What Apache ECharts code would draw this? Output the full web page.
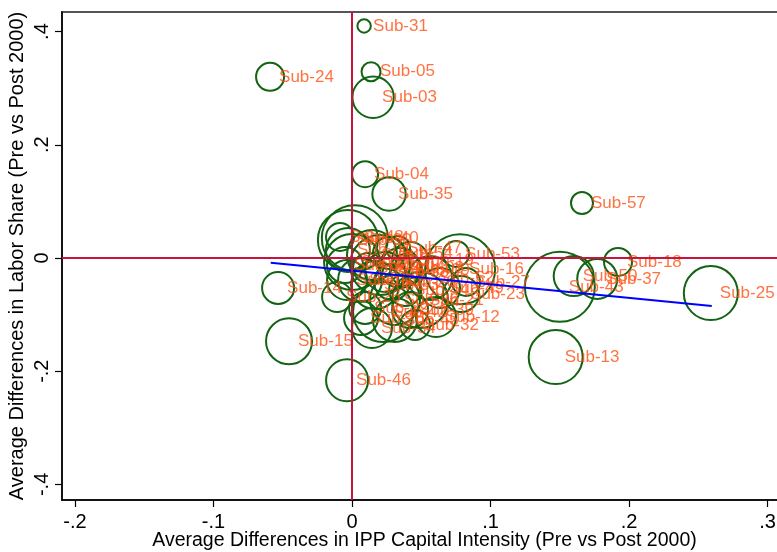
<!DOCTYPE html>
<html>
<head>
<meta charset="utf-8">
<script src="https://cdn.jsdelivr.net/npm/echarts@6/dist/echarts.min.js"></script>
<style>
  html, body { margin: 0; padding: 0; background: #fff; }
  #main { width: 777px; height: 552px; }
</style>
</head>
<body>
<div id="main"></div>
<script>
// sub-industry labels
var subs = ['Sub-31', 'Sub-24', 'Sub-05', 'Sub-03', 'Sub-04', 'Sub-35', 'Sub-57', 'Sub-18',
    'Sub-25', 'Sub-13', 'Sub-46', 'Sub-15', 'Sub-14', 'Sub-50', 'Sub-37', 'Sub-43',
    'Sub-01', 'Sub-30', 'Sub-40', 'Sub-06', 'Sub-11', 'Sub-07', 'Sub-54', 'Sub-08',
    'Sub-19', 'Sub-09', 'Sub-53', 'Sub-16', 'Sub-27', 'Sub-23', 'Sub-12', 'Sub-34',
    'Sub-26', 'Sub-28', 'Sub-21', 'Sub-39', 'Sub-36', 'Sub-42', 'Sub-22', 'Sub-10',
    'Sub-17', 'Sub-33', 'Sub-20', 'Sub-44', 'Sub-52', 'Sub-38', 'Sub-02', 'Sub-41',
    'Sub-47', 'Sub-48', 'Sub-45', 'Sub-32', 'Sub-49'];
// average difference in IPP capital intensity
var ippDiff = [0.0087, -0.0592, 0.0137, 0.0152, 0.0094, 0.0267, 0.166, 0.192,
    0.259, 0.147, -0.0036, -0.0455, -0.0534, 0.160, 0.177, 0.150,
    -0.0030, -0.0030, 0.0020, 0.0000, 0.0144, 0.0202, 0.0267, 0.0347,
    0.0419, 0.0390, 0.0751, 0.0780, 0.0823, 0.0787, 0.0606, 0.0144,
    -0.0108, 0.0065, 0.0491, 0.0419, 0.0310, 0.0224, 0.0094, -0.0036,
    0.0058, 0.0166, 0.0289, 0.0383, 0.0563, 0.0238, -0.0051, 0.0116,
    0.0332, -0.0087, 0.0310, 0.0455, 0.0635];
// average difference in labor share
var laborDiff = [0.410, 0.320, 0.329, 0.284, 0.148, 0.113, 0.097, -0.007,
    -0.062, -0.175, -0.216, -0.147, -0.053, -0.032, -0.037, -0.051,
    0.0141, 0.0318, 0.0350, -0.0071, 0.0053, -0.0124, 0.0088, -0.0177,
    -0.0035, -0.0212, 0.0071, -0.0200, -0.0424, -0.0636, -0.1042, -0.1237,
    -0.0689, -0.1060, -0.0742, -0.0919, -0.0742, -0.0954, -0.0883, -0.0389,
    -0.0389, -0.0477, -0.0424, -0.0565, -0.0353, -0.0247, -0.0124, -0.0177,
    0.0177, 0.0371, -0.1095, -0.1184, -0.0530];
// bubble weights
var weights = [0.45, 1.96, 0.90, 4.28, 1.69, 2.79, 1.21, 1.96,
    7.29, 7.29, 4.41, 5.29, 2.56, 4.00, 4.00, 12.25,
    4.84, 9.00, 10.89, 7.84, 6.25, 9.00, 2.56, 4.00,
    3.24, 2.56, 1.69, 12.25, 1.96, 3.24, 4.00, 4.00,
    2.25, 2.89, 7.84, 3.24, 6.25, 9.00, 2.56, 4.00,
    4.84, 5.76, 3.24, 2.56, 4.84, 4.00, 3.24, 2.25,
    1.44, 1.96, 4.84, 2.25, 4.00];
// fitted line end points
var fitX = [-0.0587, 0.2597];
var fitY = [-0.0083, -0.0848];

var xTicks = [-0.2, -0.1, 0, 0.1, 0.2, 0.3];
var yTicks = [-0.4, -0.2, 0, 0.2, 0.4];

function stataNum(v) {
    if (Math.abs(v) < 1e-9) return '0';
    return (Math.round(v * 10) / 10).toString().replace(/^(-?)0\./, '$1.');
}

var points = ippDiff.map(function (x, i) {
    return [x, laborDiff[i], weights[i], subs[i]];
});
var fitLine = fitX.map(function (x, i) { return [x, fitY[i]]; });

var font = '"Liberation Sans", Arial, sans-serif';
var dom = document.getElementById('main');
var myChart = echarts.init(dom, null, {renderer: 'canvas'});

var option = {
    backgroundColor: '#fff',
    animation: false,
    grid: {
        left: 62, top: 12, right: -10, bottom: 52,
        outerBoundsMode: 'none',
        containLabel: false,
        show: true, borderColor: '#555', borderWidth: 2
    },
    xAxis: {
        type: 'value',
        min: -0.2094, max: 0.314,
        name: 'Average Differences in IPP Capital Intensity (Pre vs Post 2000)',
        nameLocation: 'middle',
        nameGap: 31,
        nameMoveOverlap: false,
        nameTextStyle: {color: '#000', fontSize: 19.5, fontFamily: font},
        axisLine: {onZero: false, lineStyle: {color: '#000', width: 1.5}},
        axisTick: {show: true, customValues: xTicks, length: 7, lineStyle: {color: '#000', width: 1.2}},
        axisLabel: {customValues: xTicks, formatter: stataNum, color: '#000', fontSize: 20, fontFamily: font, margin: 12},
        splitLine: {show: false}
    },
    yAxis: {
        type: 'value',
        min: -0.4276, max: 0.4346,
        name: 'Average Differences in Labor Share (Pre vs Post 2000)',
        nameLocation: 'middle',
        nameGap: 35,
        nameMoveOverlap: false,
        nameTextStyle: {color: '#000', fontSize: 20, fontFamily: font},
        axisLine: {onZero: false, lineStyle: {color: '#000', width: 1.5}},
        axisTick: {show: true, customValues: yTicks, length: 7, lineStyle: {color: '#000', width: 1.2}},
        axisLabel: {customValues: yTicks, formatter: stataNum, rotate: 90, color: '#000', fontSize: 20, fontFamily: font, margin: 10},
        splitLine: {show: false}
    },
    series: [
        {
            // reference lines at zero
            type: 'scatter',
            data: [],
            z: 1,
            markLine: {
                silent: true,
                symbol: ['none', 'none'],
                label: {show: false},
                lineStyle: {color: '#c8143c', width: 2, type: 'solid'},
                data: [{xAxis: 0}, {yAxis: 0}]
            }
        },
        {
            type: 'scatter',
            data: points,
            z: 2,
            symbol: 'circle',
            symbolSize: function (d) { return 20 * Math.sqrt(d[2]); },
            itemStyle: {color: 'rgba(0,0,0,0)', borderColor: '#126312', borderWidth: 2, opacity: 1}
        },
        {
            type: 'scatter',
            data: points,
            z: 3,
            symbolSize: 0,
            label: {
                show: true,
                position: 'right',
                distance: 9,
                formatter: function (p) { return p.data[3]; },
                color: '#ff5014',
                fontSize: 17,
                fontFamily: font
            }
        },
        {
            type: 'line',
            data: fitLine,
            z: 4,
            symbol: 'none',
            lineStyle: {color: '#0000ff', width: 2}
        }
    ]
};

if (option && typeof option === 'object') {
    myChart.setOption(option);
}
</script>
</body>
</html>
